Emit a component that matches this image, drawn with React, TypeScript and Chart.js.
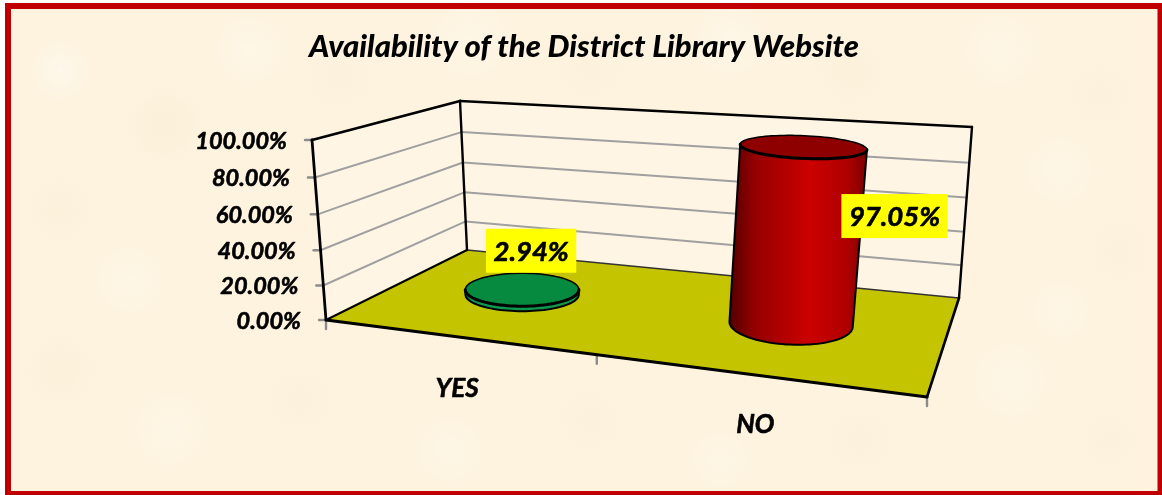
import React, { useEffect, useRef } from "react";
import { Chart, registerables } from "chart.js";

Chart.register(...registerables);

const categories = ["YES", "NO"];
const availability = [2.94, 97.05];
const sideColors = ["#0E9A4E", "#CC0000"];
const topColors = ["#068A3F", "#8E0000"];
const titleText = "Availability of the District Library Website";

// Projection of the chart box (0..1 along the axes) onto the picture.
type P = [number, number];
const floorQuad: P[] = [[326, 320], [927, 397], [959, 298], [467, 250]];
const topQuad: P[] = [[312, 140], [946, 180], [972, 127], [460, 101]];
const HEIGHT_PERSPECTIVE = 0.055;
const labelOffsets: P[] = [[9, -39], [91, 69]];
const catOffsets: P[] = [[2, 52], [2, 50]];
const FONT = "Lato";
const TICK_FONT = `italic bold 23.5px ${FONT}`;
const CAT_FONT = `italic bold 26px ${FONT}`;
const LABEL_FONT = `italic bold 27.5px ${FONT}`;

function homography(q: P[]) {
  const [[x0, y0], [x1, y1], [x2, y2], [x3, y3]] = q;
  const dx1 = x1 - x2, dx2 = x3 - x2, sx = x0 - x1 + x2 - x3;
  const dy1 = y1 - y2, dy2 = y3 - y2, sy = y0 - y1 + y2 - y3;
  const den = dx1 * dy2 - dx2 * dy1;
  const g = (sx * dy2 - dx2 * sy) / den;
  const h = (dx1 * sy - sx * dy1) / den;
  const a = x1 - x0 + g * x1, b = x3 - x0 + h * x3;
  const d = y1 - y0 + g * y1, e = y3 - y0 + h * y3;
  return (u: number, v: number): P => {
    const w = g * u + h * v + 1;
    return [(a * u + b * v + x0) / w, (d * u + e * v + y0) / w];
  };
}
const floorH = homography(floorQuad);
const topH = homography(topQuad);
function project(u: number, v: number, w: number): P {
  const f = floorH(u, v), t = topH(u, v);
  const k = w / (1 + HEIGHT_PERSPECTIVE * (1 - w));
  return [f[0] + (t[0] - f[0]) * k, f[1] + (t[1] - f[1]) * k];
}

const blotches: [number, number, number, string][] = [
  [60, 70, 32, "rgba(255,252,246,.5)"], [165, 125, 45, "rgba(248,236,208,.45)"],
  [250, 50, 40, "rgba(255,250,238,.5)"], [340, 75, 50, "rgba(249,238,214,.35)"],
  [470, 40, 45, "rgba(255,250,238,.45)"], [590, 65, 50, "rgba(249,238,214,.35)"],
  [730, 40, 40, "rgba(255,250,240,.5)"], [850, 70, 50, "rgba(249,238,212,.35)"],
  [1000, 50, 45, "rgba(255,249,236,.45)"], [1100, 95, 45, "rgba(249,238,214,.35)"],
  [1060, 170, 40, "rgba(255,250,238,.45)"], [1120, 250, 45, "rgba(250,238,214,.35)"],
  [60, 210, 45, "rgba(249,238,214,.4)"], [130, 280, 40, "rgba(255,250,238,.45)"],
  [60, 370, 45, "rgba(249,236,210,.35)"], [170, 430, 45, "rgba(255,249,236,.45)"],
  [300, 400, 45, "rgba(249,238,214,.35)"], [450, 450, 40, "rgba(255,250,238,.4)"],
  [590, 420, 45, "rgba(249,238,214,.35)"], [720, 460, 35, "rgba(255,250,238,.4)"],
  [860, 440, 45, "rgba(249,238,214,.35)"], [1010, 380, 45, "rgba(255,250,238,.45)"],
  [1110, 440, 40, "rgba(250,238,214,.35)"], [1060, 310, 35, "rgba(255,250,238,.4)"],
];

function poly(ctx: CanvasRenderingContext2D, pts: P[], close = true) {
  ctx.beginPath();
  pts.forEach((p, i) => (i ? ctx.lineTo(p[0], p[1]) : ctx.moveTo(p[0], p[1])));
  if (close) ctx.closePath();
}
function line(ctx: CanvasRenderingContext2D, a: P, b: P, color: string, width: number) {
  ctx.strokeStyle = color;
  ctx.lineWidth = width;
  poly(ctx, [a, b], false);
  ctx.stroke();
}
function boldText(ctx: CanvasRenderingContext2D, s: string, x: number, y: number) {
  ctx.fillStyle = "#000";
  ctx.strokeStyle = "#000";
  ctx.lineWidth = 0.6;
  ctx.fillText(s, x, y);
  ctx.strokeText(s, x, y);
}

const scene = {
  id: "scene",
  beforeDraw(chart: any) {
    const ctx: CanvasRenderingContext2D = chart.ctx;
    ctx.save();
    ctx.fillStyle = "#FFFFFF";
    ctx.fillRect(0, 0, chart.width, chart.height);
    ctx.fillStyle = "#FDF3DF";
    ctx.fillRect(5, 3, chart.width, chart.height);
    blotches.forEach(([x, y, r, c]) => {
      const g = ctx.createRadialGradient(x, y, 0, x, y, r);
      g.addColorStop(0, c);
      g.addColorStop(1, c.replace(/[\d.]+\)$/, "0)"));
      ctx.fillStyle = g;
      ctx.fillRect(x - r, y - r, 2 * r, 2 * r);
    });
    ctx.fillStyle = "#C00000";
    ctx.fillRect(5, 3, chart.width - 5, 6);
    ctx.fillRect(5, 3, 6, chart.height - 3);
    ctx.fillRect(chart.width - 4.5, 3, 4.5, chart.height - 3);
    ctx.fillRect(5, chart.height - 4, chart.width - 5, 4);
    ctx.restore();
  },
  beforeDatasetsDraw(chart: any) {
    const ctx: CanvasRenderingContext2D = chart.ctx;
    const { x: xs, y: ys } = chart.scales;
    const area = chart.chartArea;
    const frac = (v: number) => (area.bottom - ys.getPixelForValue(v)) / area.height;
    ctx.save();
    ctx.lineCap = "round";
    ctx.lineJoin = "round";
    // walls
    ctx.fillStyle = "rgba(255,250,242,.35)";
    poly(ctx, [project(0, 0, 0), project(0, 1, 0), project(0, 1, 1), project(0, 0, 1)]);
    ctx.fill();
    poly(ctx, [project(0, 1, 0), project(1, 1, 0), project(1, 1, 1), project(0, 1, 1)]);
    ctx.fill();
    // value grid and ticks
    ys.ticks.forEach((t: any) => {
      const w = frac(t.value);
      const a = project(0, 0, w), b = project(0, 1, w), c = project(1, 1, w);
      if (t.value > 0 && t.value < 100) {
        line(ctx, a, b, "#A0A0A0", 2);
        line(ctx, b, c, "#A0A0A0", 2);
      }
      line(ctx, [a[0] - 7, a[1]], a, "#8C8C8C", 2.4);
      ctx.font = TICK_FONT;
      ctx.textAlign = "right";
      ctx.textBaseline = "middle";
      boldText(ctx, t.label, a[0] - 25, a[1] + 1);
    });
    // floor
    ctx.fillStyle = "#C4C400";
    poly(ctx, [project(0, 0, 0), project(1, 0, 0), project(1, 1, 0), project(0, 1, 0)]);
    ctx.fill();
    // category ticks
    [0, 0.5, 1].forEach((u) => {
      const a = project(u, 0, 0);
      line(ctx, a, [a[0], a[1] + 9], "#8C8C8C", 2.4);
    });
    // frame
    line(ctx, project(0, 1, 0), project(1, 1, 0), "#333", 1.5);
    line(ctx, project(0, 0, 0), project(0, 1, 0), "#000", 2);
    line(ctx, project(1, 1, 0), project(1, 0, 0), "#000", 2.6);
    line(ctx, project(0, 0, 0), project(1, 0, 0), "#000", 3);
    line(ctx, project(0, 0, 0), project(0, 0, 1), "#000", 2.8);
    line(ctx, project(0, 0, 1), project(0, 1, 1), "#000", 2.8);
    line(ctx, project(0, 1, 0), project(0, 1, 1), "#000", 2.4);
    line(ctx, project(0, 1, 1), project(1, 1, 1), "#000", 2.4);
    line(ctx, project(1, 1, 1), project(1, 1, 0), "#000", 2.4);
    // cylinders from the bar elements
    const meta = chart.getDatasetMeta(0);
    const anchors: P[] = [];
    meta.data.forEach((bar: any, i: number) => {
      const u = (bar.x - area.left) / area.width;
      const ru = bar.width / 2 / area.width;
      const w = (area.bottom - bar.y) / area.height;
      const ring = (h: number) => {
        const c = project(u, 0.5, h);
        const rx = ((project(u + ru, 0.5, h)[0] - project(u - ru, 0.5, h)[0]) / 2) * (1 + 0.2 * (1 - u));
        const ry = rx * (0.2775 + 0.07 * u - 0.155 * h);
        const tilt = ((u - 0.25) * 5 * Math.PI) / 180;
        const pts: P[] = [];
        for (let k = 0; k < 96; k++) {
          const th = (k / 96) * Math.PI * 2;
          const ex = rx * Math.cos(th), ey = ry * Math.sin(th);
          pts.push([c[0] + ex * Math.cos(tilt) - ey * Math.sin(tilt), c[1] + ex * Math.sin(tilt) + ey * Math.cos(tilt)]);
        }
        return pts;
      };
      const bot = ring(0), top = ring(w);
      const arcs = (pts: P[]) => {
        let l = 0, r = 0;
        pts.forEach((p, k) => {
          if (p[0] < pts[l][0]) l = k;
          if (p[0] > pts[r][0]) r = k;
        });
        const walk = (from: number, to: number) => {
          const out: P[] = [];
          for (let k = from; ; k = (k + 1) % pts.length) {
            out.push(pts[k]);
            if (k === to) break;
          }
          return out;
        };
        const a = walk(l, r), b = walk(r, l);
        const mean = (s: P[]) => s.reduce((m, p) => m + p[1], 0) / s.length;
        const front = mean(a) > mean(b) ? a : b.slice().reverse();
        const back = mean(a) > mean(b) ? b.slice().reverse() : a;
        return { left: pts[l], right: pts[r], front, back };
      };
      const B = arcs(bot), T = arcs(top);
      const outline: P[] = [...B.front, T.right, ...T.back.slice().reverse()];
      const g = ctx.createLinearGradient(Math.min(B.left[0], T.left[0]), 0, Math.max(B.right[0], T.right[0]), 0);
      if (i === 1) {
        g.addColorStop(0, "#520000");
        g.addColorStop(0.18, "#940000");
        g.addColorStop(0.58, sideColors[i]);
        g.addColorStop(0.85, "#B00000");
        g.addColorStop(1, "#7C0000");
      } else {
        g.addColorStop(0, sideColors[i]);
        g.addColorStop(1, sideColors[i]);
      }
      ctx.fillStyle = g;
      poly(ctx, outline);
      ctx.fill();
      ctx.strokeStyle = "#000";
      ctx.lineWidth = 2;
      poly(ctx, [T.left, ...B.front, T.right], false);
      ctx.stroke();
      ctx.fillStyle = topColors[i];
      poly(ctx, top);
      ctx.fill();
      ctx.lineWidth = 1.5;
      poly(ctx, T.back, false);
      ctx.stroke();
      ctx.lineWidth = 3;
      poly(ctx, T.front, false);
      ctx.stroke();
      anchors.push(project(u, 0.5, w));
    });
    // value labels
    ctx.font = LABEL_FONT;
    ctx.textAlign = "center";
    ctx.textBaseline = "middle";
    anchors.forEach((a, i) => {
      const text = availability[i].toFixed(2) + "%";
      const cx = a[0] + labelOffsets[i][0], cy = a[1] + labelOffsets[i][1];
      const tw = ctx.measureText(text).width + 15;
      ctx.fillStyle = "#FFFF00";
      ctx.fillRect(cx - tw / 2, cy - 22, tw, 44);
      boldText(ctx, text, cx, cy + 1);
    });
    // category labels
    ctx.font = CAT_FONT;
    xs.ticks.forEach((t: any, i: number) => {
      const u = (xs.getPixelForTick(i) - area.left) / area.width;
      const a = project(u, 0, 0);
      boldText(ctx, t.label, a[0] + catOffsets[i][0], a[1] + catOffsets[i][1]);
    });
    ctx.restore();
    return false;
  },
};

export default function App() {
  const ref = useRef<HTMLCanvasElement>(null);
  useEffect(() => {
    document.body.style.margin = "0";
    const chart = new Chart(ref.current as HTMLCanvasElement, {
      type: "bar",
      data: {
        labels: categories,
        datasets: [{ label: "Availability", data: availability, backgroundColor: sideColors, barPercentage: 0.8, categoryPercentage: 0.5 }],
      },
      options: {
        responsive: false,
        animation: false,
        layout: { padding: { left: 6, right: 0, top: 0, bottom: 0 } },
        scales: {
          x: { display: false, grid: { display: false } },
          y: { display: false, min: 0, max: 100, ticks: { stepSize: 20, callback: (v: any) => Number(v).toFixed(2) + "%" } },
        },
        plugins: {
          legend: { display: false },
          tooltip: { enabled: false },
          title: {
            display: true,
            text: titleText,
            color: "#000",
            font: { family: FONT, size: 31, weight: "900", style: "italic" },
            padding: { top: 28, bottom: 10 },
          },
        },
      } as any,
      plugins: [scene] as any,
    });
    return () => chart.destroy();
  }, []);
  return <canvas ref={ref} width={1162} height={495} style={{ display: "block", width: 1162, height: 495 }} />;
}
